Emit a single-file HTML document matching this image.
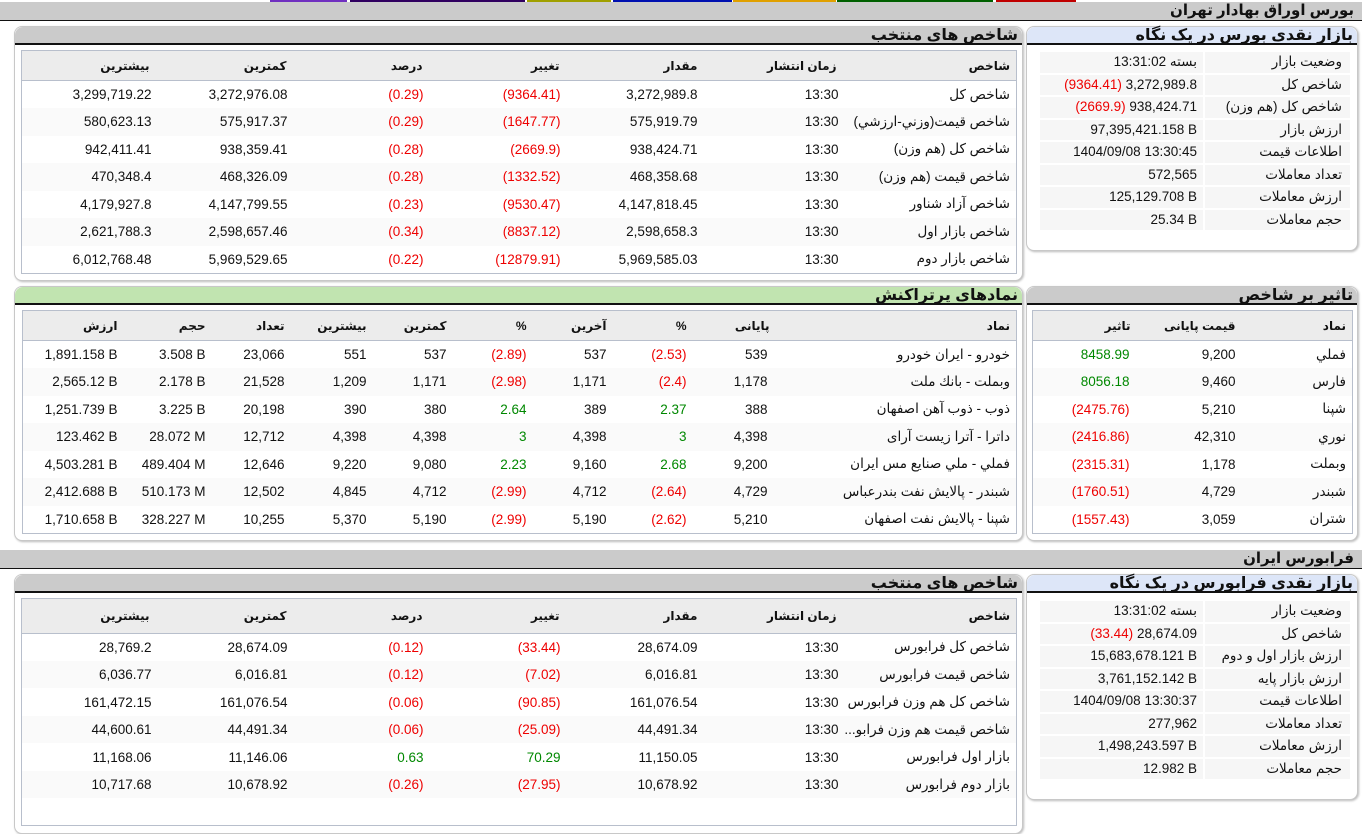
<!DOCTYPE html>
<html><head><meta charset="utf-8">
<style>
*{box-sizing:border-box;margin:0;padding:0}
body{width:1362px;height:828px;overflow:hidden;background:#fff;font-family:"Liberation Sans","DejaVu Sans",sans-serif;font-size:13.5px;color:#111;position:relative}
.abs{position:absolute}
.hbar{position:absolute;left:0;width:1362px;height:19px;background:#cbcbcb;border-bottom:1.5px solid #111;direction:rtl;font-weight:bold;font-size:15px;line-height:18px;padding-right:8px}
.panel{position:absolute;border:1px solid #c8c8c8;border-radius:8px;background:#fff;box-shadow:1px 1px 2px #bbb}
.ttl{height:18px;background:#cbcbcb;border-bottom:2px solid #111;border-radius:8px 8px 0 0;direction:rtl;font-weight:bold;font-size:16px;line-height:17px;padding-right:4px}
.blue{background:#dde6f8}
.green{background:#c1e4b0}
table{border-collapse:collapse;table-layout:fixed;direction:rtl;position:absolute;border:1px solid #b8bfcc}
td,th{text-align:right;white-space:nowrap;overflow:hidden}
td:not(:first-child){direction:ltr}
th{background:#ececec;font-size:12px;font-weight:bold;height:30px;border-bottom:1px solid #b8bfcc}
tr.r td{height:27.5px}
tr.r:nth-child(even) td{background:#fafafa}
.red{color:#e00}.grn{color:#080}
.kv{position:absolute;direction:rtl}
.kv div{display:flex;height:22.5px;line-height:20px}
.kv .k{width:145px;background:#f6f6f6;margin:1px 0 1px 2px;padding-right:8px}
.kv .v{width:163px;background:#f6f6f6;margin:1px 0;padding-right:6px}
</style></head><body>
<div class="abs" style="top:0;left:270px;width:77px;height:3px;background:#7030c0"></div>
<div class="abs" style="top:0;left:350px;width:175px;height:3px;background:#300060"></div>
<div class="abs" style="top:0;left:527px;width:84px;height:3px;background:#a0a000"></div>
<div class="abs" style="top:0;left:613px;width:119px;height:3px;background:#0010b0"></div>
<div class="abs" style="top:0;left:733px;width:103px;height:3px;background:#e0a000"></div>
<div class="abs" style="top:0;left:837px;width:156px;height:3px;background:#006000"></div>
<div class="abs" style="top:0;left:996px;width:80px;height:3px;background:#c00000"></div>

<div class="hbar" style="top:2px">بورس اوراق بهادار تهران</div>

<div class="panel" style="left:14px;top:26px;width:1009px;height:255px"><div class="ttl">شاخص های منتخب</div></div>
<table style="left:21px;top:50px;width:995px">
<colgroup><col style="width:174px"><col style="width:137px"><col style="width:138px"><col style="width:137px"><col style="width:136px"><col style="width:137px"><col style="width:136px"></colgroup>
<tr><th style="padding-right:6px">شاخص</th><th style="padding-right:6px">زمان انتشار</th><th style="padding-right:8px">مقدار</th><th style="padding-right:8px">تغییر</th><th style="padding-right:8px">درصد</th><th style="padding-right:8px">کمترین</th><th style="padding-right:8px">بیشترین</th></tr>
<tbody>
<tr class="r"><td style="padding-right:6px">شاخص کل</td><td style="padding-right:4px">13:30</td><td style="padding-right:8px">3,272,989.8</td><td class="red" style="padding-right:7px">(9364.41)</td><td class="red" style="padding-right:7px">(0.29)</td><td style="padding-right:7px">3,272,976.08</td><td style="padding-right:6px">3,299,719.22</td></tr>
<tr class="r"><td style="padding-right:6px">شاخص قیمت(وزني-ارزشي)</td><td style="padding-right:4px">13:30</td><td style="padding-right:8px">575,919.79</td><td class="red" style="padding-right:7px">(1647.77)</td><td class="red" style="padding-right:7px">(0.29)</td><td style="padding-right:7px">575,917.37</td><td style="padding-right:6px">580,623.13</td></tr>
<tr class="r"><td style="padding-right:6px">شاخص کل (هم وزن)</td><td style="padding-right:4px">13:30</td><td style="padding-right:8px">938,424.71</td><td class="red" style="padding-right:7px">(2669.9)</td><td class="red" style="padding-right:7px">(0.28)</td><td style="padding-right:7px">938,359.41</td><td style="padding-right:6px">942,411.41</td></tr>
<tr class="r"><td style="padding-right:6px">شاخص قیمت (هم وزن)</td><td style="padding-right:4px">13:30</td><td style="padding-right:8px">468,358.68</td><td class="red" style="padding-right:7px">(1332.52)</td><td class="red" style="padding-right:7px">(0.28)</td><td style="padding-right:7px">468,326.09</td><td style="padding-right:6px">470,348.4</td></tr>
<tr class="r"><td style="padding-right:6px">شاخص آزاد شناور</td><td style="padding-right:4px">13:30</td><td style="padding-right:8px">4,147,818.45</td><td class="red" style="padding-right:7px">(9530.47)</td><td class="red" style="padding-right:7px">(0.23)</td><td style="padding-right:7px">4,147,799.55</td><td style="padding-right:6px">4,179,927.8</td></tr>
<tr class="r"><td style="padding-right:6px">شاخص بازار اول</td><td style="padding-right:4px">13:30</td><td style="padding-right:8px">2,598,658.3</td><td class="red" style="padding-right:7px">(8837.12)</td><td class="red" style="padding-right:7px">(0.34)</td><td style="padding-right:7px">2,598,657.46</td><td style="padding-right:6px">2,621,788.3</td></tr>
<tr class="r"><td style="padding-right:6px">شاخص بازار دوم</td><td style="padding-right:4px">13:30</td><td style="padding-right:8px">5,969,585.03</td><td class="red" style="padding-right:7px">(12879.91)</td><td class="red" style="padding-right:7px">(0.22)</td><td style="padding-right:7px">5,969,529.65</td><td style="padding-right:6px">6,012,768.48</td></tr>
</tbody></table>

<div class="panel" style="left:1026px;top:26px;width:332px;height:225px"><div class="ttl blue">بازار نقدی بورس در یک نگاه</div></div>
<div class="kv" style="left:1034px;top:51px;width:316px">
<div><span class="k">وضعیت بازار</span><span class="v">بسته 13:31:02</span></div>
<div><span class="k">شاخص کل</span><span class="v">3,272,989.8 <span class="red">(9364.41)</span></span></div>
<div><span class="k">شاخص کل (هم وزن)</span><span class="v">938,424.71 <span class="red">(2669.9)</span></span></div>
<div><span class="k">ارزش بازار</span><span class="v"><span dir="ltr">97,395,421.158 B</span></span></div>
<div><span class="k">اطلاعات قیمت</span><span class="v"><span dir="ltr">1404/09/08 13:30:45</span></span></div>
<div><span class="k">تعداد معاملات</span><span class="v">572,565</span></div>
<div><span class="k">ارزش معاملات</span><span class="v"><span dir="ltr">125,129.708 B</span></span></div>
<div><span class="k">حجم معاملات</span><span class="v"><span dir="ltr">25.34 B</span></span></div>
</div>

<div class="panel" style="left:14px;top:286px;width:1009px;height:255px"><div class="ttl green">نمادهای پرتراکنش</div></div>
<table style="left:22px;top:310px;width:994px">
<colgroup><col style="width:241px"><col style="width:81px"><col style="width:80px"><col style="width:80px"><col style="width:80px"><col style="width:80px"><col style="width:82px"><col style="width:79px"><col style="width:88px"><col style="width:103px"></colgroup>
<tr><th style="padding-right:6px">نماد</th><th style="padding-right:6px">پایانی</th><th style="padding-right:8px">%</th><th style="padding-right:8px">آخرین</th><th style="padding-right:8px">%</th><th style="padding-right:8px">کمترین</th><th style="padding-right:8px">بیشترین</th><th style="padding-right:8px">تعداد</th><th style="padding-right:8px">حجم</th><th style="padding-right:8px">ارزش</th></tr>
<tbody>
<tr class="r"><td style="padding-right:6px">خودرو - ایران خودرو</td><td style="padding-right:8px">539</td><td class="red" style="padding-right:8px">(2.53)</td><td style="padding-right:8px">537</td><td class="red" style="padding-right:8px">(2.89)</td><td style="padding-right:8px">537</td><td style="padding-right:8px">551</td><td style="padding-right:8px">23,066</td><td style="padding-right:8px">3.508 B</td><td style="padding-right:8px">1,891.158 B</td></tr>
<tr class="r"><td style="padding-right:6px">وبملت - بانك ملت</td><td style="padding-right:8px">1,178</td><td class="red" style="padding-right:8px">(2.4)</td><td style="padding-right:8px">1,171</td><td class="red" style="padding-right:8px">(2.98)</td><td style="padding-right:8px">1,171</td><td style="padding-right:8px">1,209</td><td style="padding-right:8px">21,528</td><td style="padding-right:8px">2.178 B</td><td style="padding-right:8px">2,565.12 B</td></tr>
<tr class="r"><td style="padding-right:6px">ذوب - ذوب آهن اصفهان</td><td style="padding-right:8px">388</td><td class="grn" style="padding-right:8px">2.37</td><td style="padding-right:8px">389</td><td class="grn" style="padding-right:8px">2.64</td><td style="padding-right:8px">380</td><td style="padding-right:8px">390</td><td style="padding-right:8px">20,198</td><td style="padding-right:8px">3.225 B</td><td style="padding-right:8px">1,251.739 B</td></tr>
<tr class="r"><td style="padding-right:6px">داترا - آترا زيست آرای</td><td style="padding-right:8px">4,398</td><td class="grn" style="padding-right:8px">3</td><td style="padding-right:8px">4,398</td><td class="grn" style="padding-right:8px">3</td><td style="padding-right:8px">4,398</td><td style="padding-right:8px">4,398</td><td style="padding-right:8px">12,712</td><td style="padding-right:8px">28.072 M</td><td style="padding-right:8px">123.462 B</td></tr>
<tr class="r"><td style="padding-right:6px">فملي - ملي صنايع مس ايران</td><td style="padding-right:8px">9,200</td><td class="grn" style="padding-right:8px">2.68</td><td style="padding-right:8px">9,160</td><td class="grn" style="padding-right:8px">2.23</td><td style="padding-right:8px">9,080</td><td style="padding-right:8px">9,220</td><td style="padding-right:8px">12,646</td><td style="padding-right:8px">489.404 M</td><td style="padding-right:8px">4,503.281 B</td></tr>
<tr class="r"><td style="padding-right:6px">شبندر - پالايش نفت بندرعباس</td><td style="padding-right:8px">4,729</td><td class="red" style="padding-right:8px">(2.64)</td><td style="padding-right:8px">4,712</td><td class="red" style="padding-right:8px">(2.99)</td><td style="padding-right:8px">4,712</td><td style="padding-right:8px">4,845</td><td style="padding-right:8px">12,502</td><td style="padding-right:8px">510.173 M</td><td style="padding-right:8px">2,412.688 B</td></tr>
<tr class="r"><td style="padding-right:6px">شپنا - پالايش نفت اصفهان</td><td style="padding-right:8px">5,210</td><td class="red" style="padding-right:8px">(2.62)</td><td style="padding-right:8px">5,190</td><td class="red" style="padding-right:8px">(2.99)</td><td style="padding-right:8px">5,190</td><td style="padding-right:8px">5,370</td><td style="padding-right:8px">10,255</td><td style="padding-right:8px">328.227 M</td><td style="padding-right:8px">1,710.658 B</td></tr>
</tbody></table>

<div class="panel" style="left:1026px;top:286px;width:332px;height:255px"><div class="ttl">تاثیر بر شاخص</div></div>
<table style="left:1032px;top:310px;width:320px">
<colgroup><col style="width:110px"><col style="width:105px"><col style="width:105px"></colgroup>
<tr><th style="padding-right:6px">نماد</th><th style="padding-right:7px">قیمت پایانی</th><th style="padding-right:7px">تاثیر</th></tr>
<tbody>
<tr class="r"><td style="padding-right:6px">فملي</td><td style="padding-right:7px">9,200</td><td class="grn" style="padding-right:8px">8458.99</td></tr>
<tr class="r"><td style="padding-right:6px">فارس</td><td style="padding-right:7px">9,460</td><td class="grn" style="padding-right:8px">8056.18</td></tr>
<tr class="r"><td style="padding-right:6px">شپنا</td><td style="padding-right:7px">5,210</td><td class="red" style="padding-right:8px">(2475.76)</td></tr>
<tr class="r"><td style="padding-right:6px">نوري</td><td style="padding-right:7px">42,310</td><td class="red" style="padding-right:8px">(2416.86)</td></tr>
<tr class="r"><td style="padding-right:6px">وبملت</td><td style="padding-right:7px">1,178</td><td class="red" style="padding-right:8px">(2315.31)</td></tr>
<tr class="r"><td style="padding-right:6px">شبندر</td><td style="padding-right:7px">4,729</td><td class="red" style="padding-right:8px">(1760.51)</td></tr>
<tr class="r"><td style="padding-right:6px">شتران</td><td style="padding-right:7px">3,059</td><td class="red" style="padding-right:8px">(1557.43)</td></tr>
</tbody></table>

<div class="hbar" style="top:550px">فرابورس ایران</div>

<div class="panel" style="left:14px;top:574px;width:1009px;height:260px"><div class="ttl">شاخص های منتخب</div></div>
<table style="left:21px;top:598px;width:995px;height:228px">
<colgroup><col style="width:174px"><col style="width:137px"><col style="width:138px"><col style="width:137px"><col style="width:136px"><col style="width:137px"><col style="width:136px"></colgroup>
<tr><th style="padding-right:6px">شاخص</th><th style="padding-right:6px">زمان انتشار</th><th style="padding-right:8px">مقدار</th><th style="padding-right:8px">تغییر</th><th style="padding-right:8px">درصد</th><th style="padding-right:8px">کمترین</th><th style="padding-right:8px">بیشترین</th></tr>
<tbody>
<tr class="r"><td style="padding-right:6px">شاخص کل فرابورس</td><td style="padding-right:4px">13:30</td><td style="padding-right:8px">28,674.09</td><td class="red" style="padding-right:7px">(33.44)</td><td class="red" style="padding-right:7px">(0.12)</td><td style="padding-right:7px">28,674.09</td><td style="padding-right:6px">28,769.2</td></tr>
<tr class="r"><td style="padding-right:6px">شاخص قیمت فرابورس</td><td style="padding-right:4px">13:30</td><td style="padding-right:8px">6,016.81</td><td class="red" style="padding-right:7px">(7.02)</td><td class="red" style="padding-right:7px">(0.12)</td><td style="padding-right:7px">6,016.81</td><td style="padding-right:6px">6,036.77</td></tr>
<tr class="r"><td style="padding-right:6px">شاخص کل هم وزن فرابورس</td><td style="padding-right:4px">13:30</td><td style="padding-right:8px">161,076.54</td><td class="red" style="padding-right:7px">(90.85)</td><td class="red" style="padding-right:7px">(0.06)</td><td style="padding-right:7px">161,076.54</td><td style="padding-right:6px">161,472.15</td></tr>
<tr class="r"><td style="padding-right:6px">شاخص قیمت هم وزن فرابو...</td><td style="padding-right:4px">13:30</td><td style="padding-right:8px">44,491.34</td><td class="red" style="padding-right:7px">(25.09)</td><td class="red" style="padding-right:7px">(0.06)</td><td style="padding-right:7px">44,491.34</td><td style="padding-right:6px">44,600.61</td></tr>
<tr class="r"><td style="padding-right:6px">بازار اول فرابورس</td><td style="padding-right:4px">13:30</td><td style="padding-right:8px">11,150.05</td><td class="grn" style="padding-right:7px">70.29</td><td class="grn" style="padding-right:7px">0.63</td><td style="padding-right:7px">11,146.06</td><td style="padding-right:6px">11,168.06</td></tr>
<tr class="r"><td style="padding-right:6px">بازار دوم فرابورس</td><td style="padding-right:4px">13:30</td><td style="padding-right:8px">10,678.92</td><td class="red" style="padding-right:7px">(27.95)</td><td class="red" style="padding-right:7px">(0.26)</td><td style="padding-right:7px">10,678.92</td><td style="padding-right:6px">10,717.68</td></tr>
<tr><td colspan="7" style="background:#fff"></td></tr>
</tbody></table>

<div class="panel" style="left:1026px;top:574px;width:332px;height:226px"><div class="ttl blue">بازار نقدی فرابورس در یک نگاه</div></div>
<div class="kv" style="left:1034px;top:600px;width:316px">
<div><span class="k">وضعیت بازار</span><span class="v">بسته 13:31:02</span></div>
<div><span class="k">شاخص کل</span><span class="v">28,674.09 <span class="red">(33.44)</span></span></div>
<div><span class="k">ارزش بازار اول و دوم</span><span class="v"><span dir="ltr">15,683,678.121 B</span></span></div>
<div><span class="k">ارزش بازار پایه</span><span class="v"><span dir="ltr">3,761,152.142 B</span></span></div>
<div><span class="k">اطلاعات قیمت</span><span class="v"><span dir="ltr">1404/09/08 13:30:37</span></span></div>
<div><span class="k">تعداد معاملات</span><span class="v">277,962</span></div>
<div><span class="k">ارزش معاملات</span><span class="v"><span dir="ltr">1,498,243.597 B</span></span></div>
<div><span class="k">حجم معاملات</span><span class="v"><span dir="ltr">12.982 B</span></span></div>
</div>
</body></html>
